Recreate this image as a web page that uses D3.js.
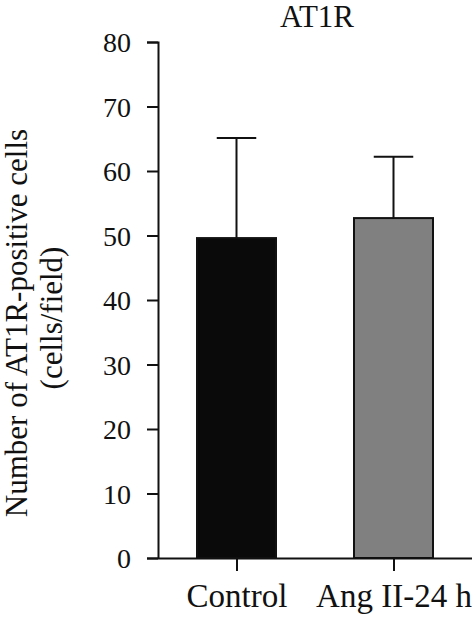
<!DOCTYPE html>
<html>
<head>
<meta charset="utf-8">
<script src="https://cdn.jsdelivr.net/npm/d3@7"></script>
<style>
  body { margin: 0; background: #fff; }
  svg text { font-family: "Liberation Serif", "DejaVu Serif", serif; fill: #111; }
</style>
</head>
<body>
<div id="chart"></div>
<script>
// data
const groups = ["Control", "Ang II-24 h"];
const means = [49.6, 52.7];
const errors = [15.5, 9.5];
const barColors = ["#0a0a0a", "#7f807f"];
const yTicks = [0, 10, 20, 30, 40, 50, 60, 70, 80];

const svgWidth = 472;
const svgHeight = 620;
const margin = { top: 42, right: 0, bottom: 62, left: 158 };
const height = svgHeight - margin.top - margin.bottom;

const svg = d3.select("#chart")
  .append("svg")
  .attr("width", svgWidth)
  .attr("height", svgHeight);

const chartGroup = svg.append("g")
  .attr("transform", `translate(${margin.left}, ${margin.top})`);

// scales
const yScale = d3.scaleLinear().domain([0, 80]).range([height, 0]);
const xScale = d3.scalePoint().domain(groups).range([78.5, 235.5]);
const barWidth = 79;

// bars
chartGroup.selectAll("rect.bar")
  .data(groups)
  .enter()
  .append("rect")
  .attr("class", "bar")
  .attr("x", d => xScale(d) - barWidth / 2)
  .attr("y", (d, i) => yScale(means[i]))
  .attr("width", barWidth)
  .attr("height", (d, i) => yScale(0) - yScale(means[i]))
  .attr("fill", (d, i) => barColors[i])
  .attr("stroke", "#111")
  .attr("stroke-width", 2);

// error bars (upper only)
const errGroup = chartGroup.selectAll("g.err")
  .data(groups)
  .enter()
  .append("g")
  .attr("class", "err")
  .attr("stroke", "#111")
  .attr("stroke-width", 2);

errGroup.append("line")
  .attr("x1", d => xScale(d))
  .attr("x2", d => xScale(d))
  .attr("y1", (d, i) => yScale(means[i]))
  .attr("y2", (d, i) => yScale(means[i] + errors[i]));

errGroup.append("line")
  .attr("x1", d => xScale(d) - barWidth / 4)
  .attr("x2", d => xScale(d) + barWidth / 4)
  .attr("y1", (d, i) => yScale(means[i] + errors[i]))
  .attr("y2", (d, i) => yScale(means[i] + errors[i]));

// y axis
const leftAxis = d3.axisLeft(yScale).tickValues(yTicks).tickSize(11).tickPadding(16);
const yAxis = chartGroup.append("g").call(leftAxis);
yAxis.select(".domain").attr("d", `M-11,0.5H0.5V${height}`);
yAxis.selectAll("line, path").attr("stroke", "#111").attr("stroke-width", 2);
yAxis.selectAll("text").attr("font-size", 28).attr("dy", "0.34em")
  .style("font-family", "Liberation Serif, serif");

// x axis
const bottomAxis = d3.axisBottom(xScale).tickSize(13).tickPadding(13);
const xAxis = chartGroup.append("g")
  .attr("transform", `translate(0, ${height})`)
  .call(bottomAxis);
xAxis.select(".domain").attr("d", `M-11,0.5H${svgWidth - margin.left}`);
xAxis.selectAll("line, path").attr("stroke", "#111").attr("stroke-width", 2);
xAxis.selectAll("text").attr("font-size", 33)
  .style("font-family", "Liberation Serif, serif");

// title
svg.append("text")
  .attr("x", 317)
  .attr("y", 27)
  .attr("text-anchor", "middle")
  .attr("font-size", 31)
  .text("AT1R");

// y label
const yLabel = svg.append("g")
  .attr("transform", "rotate(-90)");
yLabel.append("text")
  .attr("x", -323)
  .attr("y", 27)
  .attr("text-anchor", "middle")
  .attr("font-size", 31)
  .text("Number of AT1R-positive cells");
yLabel.append("text")
  .attr("x", -318)
  .attr("y", 62)
  .attr("text-anchor", "middle")
  .attr("font-size", 31)
  .text("(cells/field)");
</script>
</body>
</html>
